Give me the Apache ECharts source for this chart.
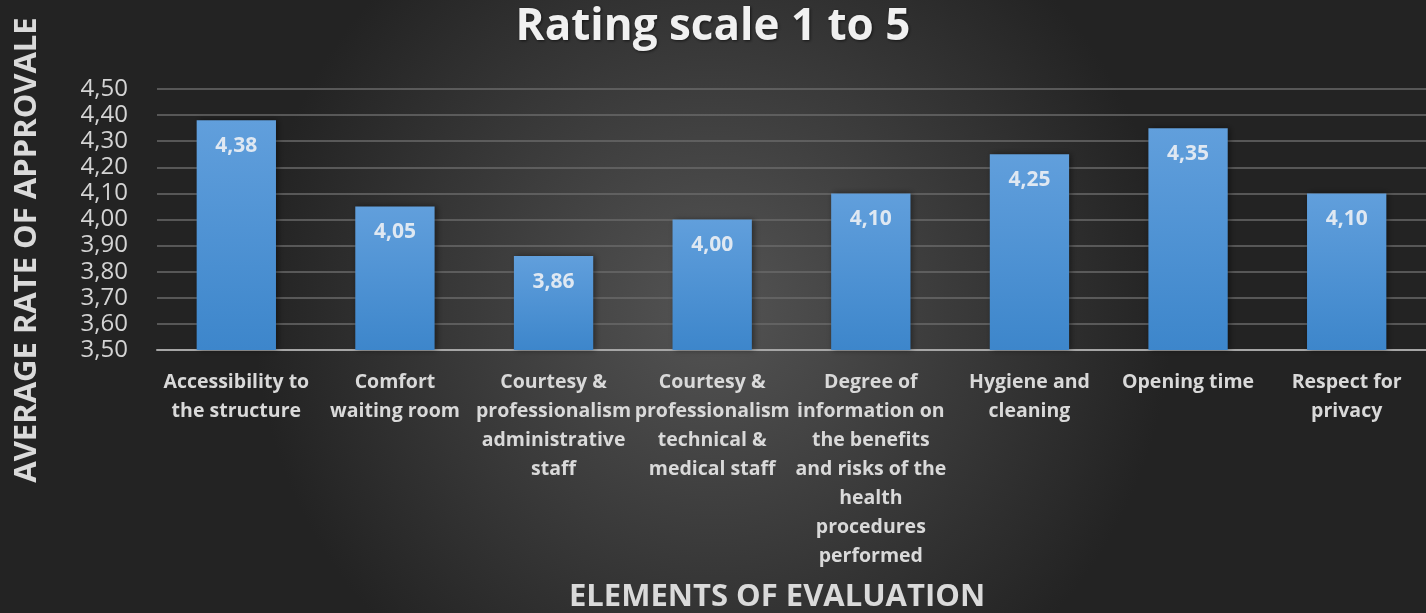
<!DOCTYPE html>
<html><head><meta charset="utf-8">
<script src="https://cdn.jsdelivr.net/npm/echarts@6/dist/echarts.min.js"></script>
<style>html,body{margin:0;padding:0;background:#2b2b2b}#c{width:1426px;height:613px}</style>
</head><body><div id="c"></div>
<script>
const categories = [
  "Accessibility to\nthe structure",
  "Comfort\nwaiting room",
  "Courtesy &\nprofessionalism\nadministrative\nstaff",
  "Courtesy &\nprofessionalism\ntechnical &\nmedical staff",
  "Degree of\ninformation on\nthe benefits\nand risks of the\nhealth\nprocedures\nperformed",
  "Hygiene and\ncleaning",
  "Opening time",
  "Respect for\nprivacy"
];
const values = [4.38, 4.05, 3.86, 4.00, 4.10, 4.25, 4.35, 4.10];
const titleText = "Rating scale 1 to 5";
const yName = "AVERAGE RATE OF APPROVALE";
const xName = "ELEMENTS OF EVALUATION";
const FONT = "'Open Sans', sans-serif";
const fmt = v => v.toFixed(2).replace('.', ',');

const chart = echarts.init(document.getElementById('c'));
chart.setOption({
  backgroundColor: {
    type: 'radial', x: 0.5, y: 0.5, r: 0.75,
    colorStops: [{offset: 0, color: '#545454'}, {offset: 1, color: '#232323'}]
  },
  title: {
    text: titleText, left: 'center', top: 0,
    textStyle: {color: '#f0f0f0', fontSize: 44, fontWeight: 'bold', fontFamily: FONT,
      textShadowColor: 'rgba(0,0,0,0.6)', textShadowBlur: 3, textShadowOffsetX: 1, textShadowOffsetY: 1}
  },
  graphic: [
    {type: 'text', x: 27, y: 250, rotation: Math.PI / 2,
     style: {text: yName, fill: '#dadada', font: 'bold 31px ' + FONT, textAlign: 'center', textVerticalAlign: 'middle'}},
    {type: 'text', x: 777, y: 597,
     style: {text: xName, fill: '#dadada', font: 'bold 31px ' + FONT, textAlign: 'center', textVerticalAlign: 'middle'}}
  ],
  grid: {left: 157, right: 0, top: 89, bottom: 263},
  xAxis: {
    type: 'category', data: categories,
    axisLine: {lineStyle: {color: '#a6a6a6', width: 2}},
    axisTick: {show: false},
    axisLabel: {interval: 0, color: '#d9d9d9', fontSize: 19.5, fontWeight: 'bold', fontFamily: FONT,
      lineHeight: 29, margin: 18}
  },
  yAxis: {
    type: 'value', min: 3.5, max: 4.5, interval: 0.1,
    axisLine: {show: false}, axisTick: {show: false},
    axisLabel: {color: '#d4d4d4', fontSize: 24, fontFamily: FONT, margin: 29, formatter: v => fmt(v)},
    splitLine: {lineStyle: {color: '#6a6a6a', width: 1.5}}
  },
  series: [{
    type: 'bar', data: values, barWidth: '50%',
    itemStyle: {
      color: {type: 'linear', x: 0, y: 0, x2: 0, y2: 1,
        colorStops: [{offset: 0, color: '#619fdc'}, {offset: 1, color: '#3d86cb'}]},
      shadowColor: 'rgba(0,0,0,0.45)', shadowBlur: 6, shadowOffsetX: 2, shadowOffsetY: 0
    },
    label: {show: true, position: 'insideTop', distance: 15, formatter: p => fmt(p.value),
      color: '#dfe8f2', fontSize: 21, fontWeight: 'bold', fontFamily: FONT}
  }]
});
</script></body></html>
